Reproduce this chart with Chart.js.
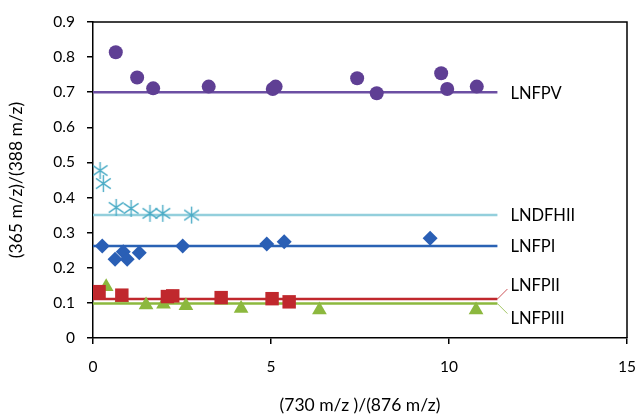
<!DOCTYPE html>
<html>
<head>
<meta charset="utf-8">
<script src="https://cdn.jsdelivr.net/npm/chart.js@4/dist/chart.umd.min.js"></script>
<style>
  html, body { margin: 0; padding: 0; background: #fff; }
  #wrap { width: 638px; height: 420px; }
</style>
</head>
<body>
<div id="wrap"><canvas id="chart" width="638" height="420"></canvas></div>
<script>
// ---- data ----
const lnfpvX = [0.64, 1.24, 1.69, 3.25, 5.05, 5.13, 7.42, 7.97, 9.78, 9.95, 10.78];
const lnfpvY = [0.814, 0.742, 0.711, 0.716, 0.709, 0.716, 0.740, 0.697, 0.754, 0.709, 0.716];

const lndfhiiX = [0.20, 0.29, 0.65, 1.07, 1.60, 1.96, 2.77];
const lndfhiiY = [0.477, 0.440, 0.372, 0.369, 0.355, 0.355, 0.350];

const lnfpiX = [0.26, 0.62, 0.85, 0.96, 1.30, 2.52, 4.88, 5.37, 9.47];
const lnfpiY = [0.262, 0.224, 0.246, 0.224, 0.243, 0.262, 0.268, 0.274, 0.284];

const lnfpiiX = [0.17, 0.81, 2.09, 2.24, 3.60, 5.03, 5.51];
const lnfpiiY = [0.132, 0.122, 0.118, 0.120, 0.115, 0.112, 0.103];

const lnfpiiiX = [0.37, 0.81, 1.49, 1.98, 2.61, 4.16, 6.36, 10.76];
const lnfpiiiY = [0.146, 0.113, 0.094, 0.096, 0.092, 0.084, 0.080, 0.080];

// horizontal reference lines (mean levels) and where they stop on x
const lineNames = ["LNFPV", "LNDFHII", "LNFPI", "LNFPII", "LNFPIII"];
const lineLevels = [0.70, 0.35, 0.262, 0.111, 0.098];
const lineEndX = 11.36;

const xTicks = [0, 5, 10, 15];
const yTicks = [0, 0.1, 0.2, 0.3, 0.4, 0.5, 0.6, 0.7, 0.8, 0.9];

// ---- styling ----
const markerColors = ["#5f3f94", "#4bacc6", "#2a5fb5", "#c0282d", "#8cb83e"];
const lineColors   = ["#6c4fa3", "#93cfdc", "#2a62b4", "#c0282d", "#8cb83e"];
const labelOffsets = [0, 0, 0, -14, 14];   // vertical nudge in px for the two close labels
const FONT = "Lato, 'Open Sans', sans-serif";

function asteriskStyle(color, size) {
  const c = document.createElement("canvas");
  c.width = size; c.height = size;
  const g = c.getContext("2d");
  const m = size / 2, r = size / 2 - 1;
  g.strokeStyle = color;
  g.lineWidth = 1.4;
  g.beginPath();
  g.moveTo(m, 1); g.lineTo(m, size - 1);
  g.moveTo(m - r * 0.87, m - r * 0.6); g.lineTo(m + r * 0.87, m + r * 0.6);
  g.moveTo(m - r * 0.87, m + r * 0.6); g.lineTo(m + r * 0.87, m - r * 0.6);
  g.stroke();
  return c;
}

const pts = (xs, ys) => xs.map((x, i) => ({ x: x, y: ys[i] }));

const scatterSets = [
  { data: pts(lnfpvX, lnfpvY), pointStyle: "circle", pointRadius: 7 },
  { data: pts(lndfhiiX, lndfhiiY), pointStyle: asteriskStyle(markerColors[1], 19), pointRadius: 9 },
  { data: pts(lnfpiX, lnfpiY), pointStyle: "rectRot", pointRadius: 7.5 },
  { data: pts(lnfpiiX, lnfpiiY), pointStyle: "rect", pointRadius: 9.5 },
  { data: pts(lnfpiiiX, lnfpiiiY), pointStyle: "triangle", pointRadius: 8.5 }
].map((d, i) => ({
  type: "scatter",
  label: lineNames[i],
  data: d.data,
  pointStyle: d.pointStyle,
  pointRadius: d.pointRadius,
  pointBackgroundColor: markerColors[i],
  pointBorderColor: markerColors[i],
  pointBorderWidth: 0,
  showLine: false,
  order: 1
}));

const lineSets = lineLevels.map((lvl, i) => ({
  type: "line",
  label: lineNames[i] + " level",
  data: [{ x: 0, y: lvl }, { x: lineEndX, y: lvl }],
  borderColor: lineColors[i],
  borderWidth: 2.5,
  pointRadius: 0,
  fill: false,
  order: 2
}));

// draws the box frame and the labels at the ends of the lines
const annotate = {
  id: "annotate",
  afterDatasetsDraw(chart) {
    const { ctx, chartArea: a, scales: { x, y } } = chart;
    ctx.save();
    ctx.strokeStyle = "#000";
    ctx.lineWidth = 1.5;
    ctx.beginPath();
    ctx.moveTo(a.left, a.top); ctx.lineTo(a.right, a.top); ctx.lineTo(a.right, a.bottom);
    ctx.stroke();

    const xe = x.getPixelForValue(lineEndX);
    ctx.font = "16.5px " + FONT;
    ctx.fillStyle = "#000";
    ctx.textBaseline = "middle";
    lineNames.forEach((name, i) => {
      const yl = y.getPixelForValue(lineLevels[i]);
      const ty = yl + labelOffsets[i];
      if (labelOffsets[i] !== 0) {
        ctx.strokeStyle = lineColors[i];
        ctx.lineWidth = 0.8;
        ctx.beginPath();
        ctx.moveTo(xe, yl);
        ctx.lineTo(xe + 10, ty + (labelOffsets[i] < 0 ? 4 : -4));
        ctx.stroke();
      }
      ctx.fillText(name, xe + 13, ty + 1);
    });
    ctx.restore();
  }
};

new Chart(document.getElementById("chart"), {
  data: { datasets: [...scatterSets, ...lineSets] },
  options: {
    responsive: false,
    animation: false,
    layout: { padding: { top: 22, right: 11, left: 0, bottom: 0 } },
    plugins: {
      legend: { display: false },
      tooltip: { enabled: false }
    },
    scales: {
      x: {
        type: "linear",
        min: 0, max: 15,
        afterBuildTicks: s => { s.ticks = xTicks.map(v => ({ value: v })); },
        afterFit: s => { s.height = 82; s.paddingLeft = 0; s.paddingRight = 0; },
        grid: { display: true, drawOnChartArea: false, drawTicks: true, tickLength: 6, color: "#000", lineWidth: 1.5 },
        border: { display: true, color: "#000", width: 1.5 },
        ticks: { color: "#000", font: { size: 15.5, family: FONT }, padding: 14 },
        title: { display: true, text: "(730 m/z )/(876 m/z)", color: "#000", font: { size: 17.5, family: FONT }, padding: { top: 4, bottom: 4 } }
      },
      y: {
        type: "linear",
        min: 0, max: 0.9,
        afterBuildTicks: s => { s.ticks = yTicks.map(v => ({ value: v })); },
        afterFit: s => { s.width = 93; s.paddingTop = 0; s.paddingBottom = 0; },
        grid: { display: true, drawOnChartArea: false, drawTicks: true, tickLength: 6, color: "#000", lineWidth: 1.5 },
        border: { display: true, color: "#000", width: 1.5 },
        ticks: { color: "#000", font: { size: 15.5, family: FONT }, padding: 12, callback: v => String(Math.round(v * 10) / 10) },
        title: { display: true, text: "(365 m/z)/(388 m/z)", color: "#000", font: { size: 17.5, family: FONT }, padding: { top: 6, bottom: 2 } }
      }
    }
  },
  plugins: [annotate]
});
</script>
</body>
</html>
